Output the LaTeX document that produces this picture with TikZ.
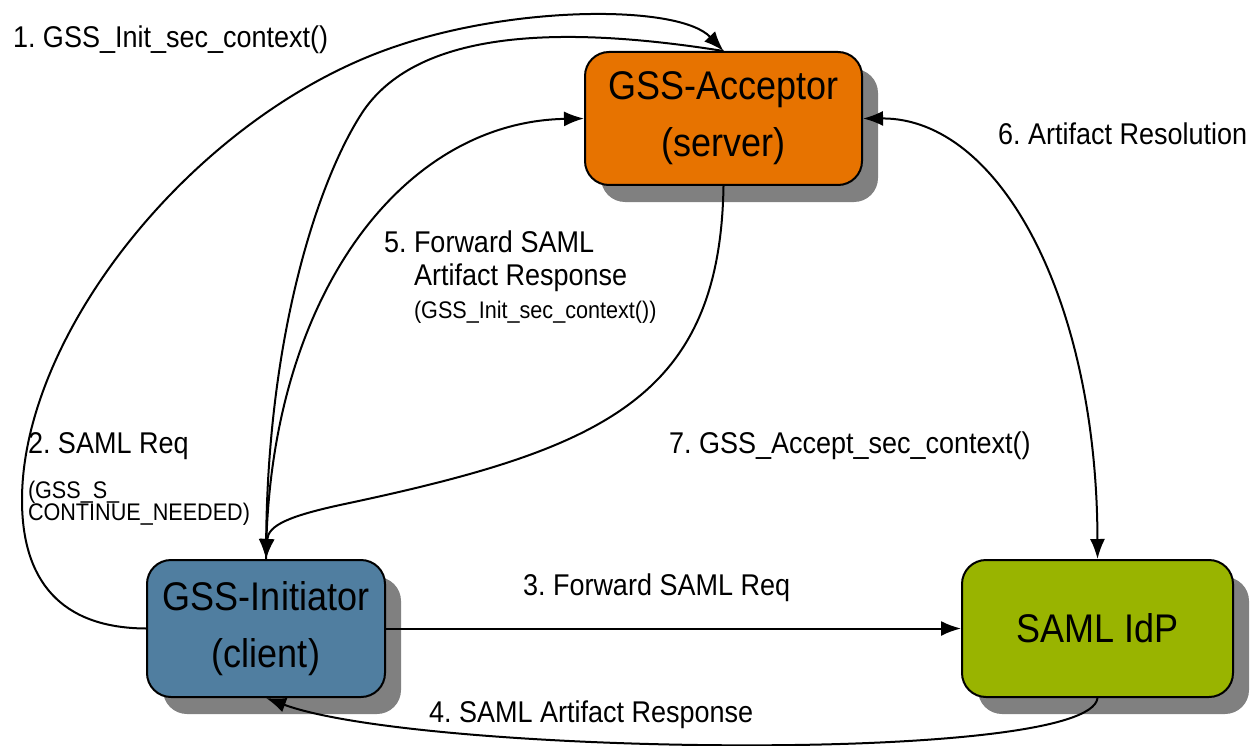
\documentclass[tikz,border=0pt]{standalone}
\usepackage{fontspec}
\setmainfont{Liberation Sans}[FakeStretch=0.9]
\frenchspacing
\usetikzlibrary{arrows.meta,shadows}
\definecolor{accorange}{RGB}{231,115,0}
\definecolor{initblue}{RGB}{80,126,160}
\definecolor{idpgreen}{RGB}{153,180,0}
\definecolor{shadowgray}{RGB}{128,128,128}
\newcommand{\boxfont}{\fontsize{40}{57}\selectfont}
\newcommand{\lblfont}{\fontsize{30}{33}\selectfont}
\newcommand{\smfont}{\fontsize{24}{22}\selectfont}
\begin{document}
\begin{tikzpicture}[x=1pt, y=-1pt, line width=2pt, >={Latex[length=20pt,width=15pt]},
                    box/.style={draw, rounded corners=24pt, inner sep=0pt, align=center, font=\boxfont,
                        drop shadow={shadow xshift=16pt, shadow yshift=-17pt, fill=shadowgray, opacity=1}},
                    lbl/.style={inner sep=0pt, anchor=base west, font=\lblfont}]
                            \useasboundingbox (0,0) rectangle (1260,746);
                            \node[box, fill=accorange, minimum width=277pt, minimum height=133pt] (acc) at (723.5,118.5) {GSS-Acceptor\\(server)};
                            \node[box, fill=initblue, minimum width=238pt, minimum height=137pt] (init) at (266,628.5) {GSS-Initiator\\(client)};
                            \node[box, fill=idpgreen, minimum width=271pt, minimum height=137pt] (idp) at (1097.5,628.5) {SAML IdP};
                            \draw[->] (init.west) .. controls (60,628) and (22,580) .. (22,500)
                                .. controls (22,330) and (200,110) .. (400,45)
                                .. controls (520,5) and (680,5) .. (acc.north);
                            \draw[->] (acc.north) .. controls (560,25) and (420,30) .. (364,110)
                                .. controls (320,175) and (268,330) .. (init.north);
                            \draw[->] (init.north) .. controls (268,300) and (400,122) .. (acc.west);
                            \draw[->] (acc.south) .. controls (720,400) and (600,450) .. (340,505)
                                .. controls (290,516) and (268,525) .. (init.north);
                            \draw[->] (init.east) -- (idp.west);
                            \draw[->] (idp.south) .. controls (1090,765) and (420,755) .. (init.south);
                            \draw[<->] (acc.east) .. controls (1000,118) and (1097,300) .. (idp.north);
                            \node[lbl] (l1) at (12,48) {1. GSS\_Init\_sec\_context()};
                            \node[lbl] (l2) at (27,453) {\begin{tabular}[t]{@{}l@{}}2. SAML Req\\[12pt]
                                \smfont\lineskiplimit=-50pt\vtop{\hbox{(GSS\_S\_}\hbox{CONTINUE\_NEEDED)}}\end{tabular}};
                            \node[lbl] (l3) at (522,595) {3. Forward SAML Req};
                            \node[lbl] (l4) at (428,722) {4. SAML Artifact Response};
                            \node[lbl] (l5) at (383,252) {\begin{tabular}[t]{@{}l@{\ }l@{}}5. & Forward SAML\\
                                & Artifact Response\\ & \smfont (GSS\_Init\_sec\_context())\end{tabular}};
                            \node[lbl] (l6) at (997,145) {6. Artifact Resolution};
                            \node[lbl] (l7) at (668,453) {7. GSS\_Accept\_sec\_context()};
                        \end{tikzpicture}
\end{document}
